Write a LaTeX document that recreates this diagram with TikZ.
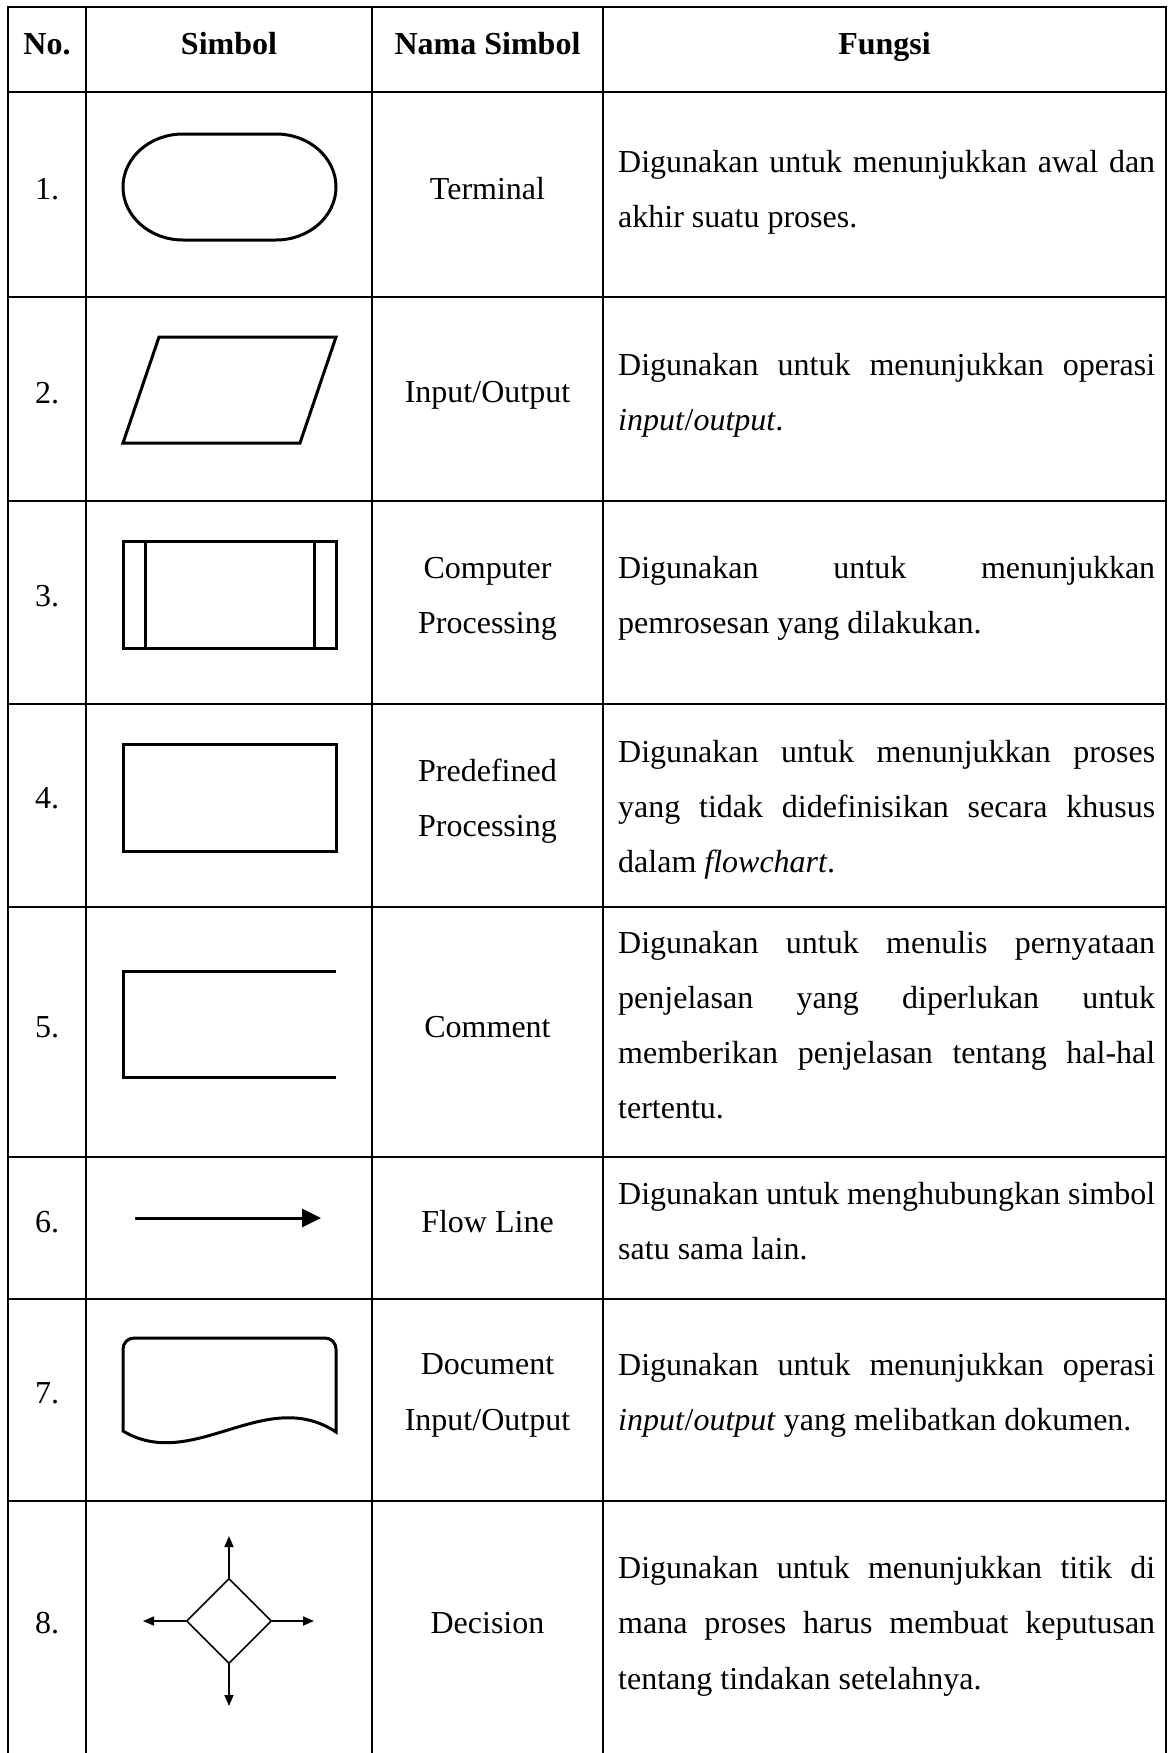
\documentclass[tikz,border=0pt]{standalone}
\usepackage{fontspec}
\setmainfont{Liberation Serif}
\usetikzlibrary{shapes.geometric,arrows.meta}
% one justified line of the "Fungsi" column
\newcommand{\jline}[1]{\makebox[537pt][s]{#1}}
\begin{document}
\begin{tikzpicture}[x=1pt,y=-1pt,
  grid/.style={line width=2.3pt},
  sym/.style={line width=3pt,line join=miter},
  thinsym/.style={line width=1.6pt},
  txt/.style={inner sep=0pt,anchor=base,font=\fontsize{32}{55}\selectfont},
  hdr/.style={inner sep=0pt,anchor=base,font=\fontsize{32}{55}\selectfont\bfseries},
  fn/.style={inner sep=0pt,anchor=base west,font=\fontsize{32}{55}\selectfont},
  smalltip/.style={-{Triangle[length=11pt,width=9pt]}},
]
\useasboundingbox (0,0) rectangle (1171,1753);

% ---- table rules ----
\draw[grid] (8,1760) -- (8,7) -- (1166,7) -- (1166,1760);
\foreach \yy in {92,297,501,704,907,1157,1299,1501}
  \draw[grid] (8,\yy) -- (1166,\yy);
\foreach \xx in {86,372,603}
  \draw[grid] (\xx,7) -- (\xx,1760);

% ---- header ----
\node[hdr] (hNo)   at (47,55)    {No.};
\node[hdr] (hSym)  at (229,55)   {Simbol};
\node[hdr] (hName) at (487.5,55) {Nama Simbol};
\node[hdr] (hFun)  at (884.5,55) {Fungsi};

% ---- numbers ----
\node[txt] (n1) at (47,199)  {1.};
\node[txt] (n2) at (47,403)  {2.};
\node[txt] (n3) at (47,606)  {3.};
\node[txt] (n4) at (47,808)  {4.};
\node[txt] (n5) at (47,1037) {5.};
\node[txt] (n6) at (47,1232) {6.};
\node[txt] (n7) at (47,1403) {7.};
\node[txt] (n8) at (47,1633) {8.};

% ---- symbols ----
% terminal
\draw[sym] (183,134) -- (276,134)
  arc[start angle=-90,end angle=90,x radius=60,y radius=53]
  -- (183,240)
  arc[start angle=90,end angle=270,x radius=60,y radius=53] -- cycle;
% input/output
\draw[sym] (159,337) -- (336,337) -- (300,443) -- (123,443) -- cycle;
% computer processing
\draw[sym] (123,541) rectangle (336,648);
\draw[sym] (145,541) -- (145,648);
\draw[sym] (314,541) -- (314,648);
% predefined processing
\draw[sym] (123,744) rectangle (336,851);
% comment
\draw[sym] (336,971) -- (123,971) -- (123,1077) -- (336,1077);
% flow line
\coordinate (flowA) at (135,1218);
\coordinate (flowB) at (321,1218);
\draw[sym,-{Triangle[length=19pt,width=18pt]}] (flowA) -- (flowB);
% document
\draw[sym] (336,1432) .. controls (265,1385) and (193,1473) .. (123,1431)
  -- (123,1349) arc[start angle=180,end angle=270,radius=11]
  -- (325,1338) arc[start angle=270,end angle=360,radius=11] -- cycle;
% decision
\node[diamond,draw,thinsym,aspect=1,inner sep=0pt,
      minimum width=85pt,minimum height=85pt] (dec) at (229,1621) {};
\coordinate (decN) at (229,1536);
\coordinate (decS) at (229,1706);
\coordinate (decW) at (143,1621);
\coordinate (decE) at (314,1621);
\draw[thinsym,smalltip] (dec.north) -- (decN);
\draw[thinsym,smalltip] (dec.south) -- (decS);
\draw[thinsym,smalltip] (dec.west) -- (decW);
\draw[thinsym,smalltip] (dec.east) -- (decE);

% ---- symbol names ----
\node[txt] (m1)  at (487.5,199)  {Terminal};
\node[txt] (m2)  at (487.5,402)  {Input/Output};
\node[txt] (m3a) at (487.5,578)  {Computer};
\node[txt] (m3b) at (487.5,633)  {Processing};
\node[txt] (m4a) at (487.5,781)  {Predefined};
\node[txt] (m4b) at (487.5,836)  {Processing};
\node[txt] (m5)  at (487.5,1037) {Comment};
\node[txt] (m6)  at (487.5,1232) {Flow Line};
\node[txt] (m7a) at (487.5,1374) {Document};
\node[txt] (m7b) at (487.5,1430) {Input/Output};
\node[txt] (m8)  at (487.5,1633) {Decision};

% ---- functions ----
\node[fn] (f1a) at (618,172)  {\jline{Digunakan untuk menunjukkan awal dan}};
\node[fn] (f1b) at (618,227)  {akhir suatu proses.};
\node[fn] (f2a) at (618,375)  {\jline{Digunakan untuk menunjukkan operasi}};
\node[fn] (f2b) at (618,430)  {\textit{input}/\textit{output}.};
\node[fn] (f3a) at (618,578)  {\jline{Digunakan untuk menunjukkan}};
\node[fn] (f3b) at (618,633)  {pemrosesan yang dilakukan.};
\node[fn] (f4a) at (618,762)  {\jline{Digunakan untuk menunjukkan proses}};
\node[fn] (f4b) at (618,817)  {\jline{yang tidak didefinisikan secara khusus}};
\node[fn] (f4c) at (618,872)  {dalam \textit{flowchart}.};
\node[fn] (f5a) at (618,953)  {\jline{Digunakan untuk menulis pernyataan}};
\node[fn] (f5b) at (618,1008) {\jline{penjelasan yang diperlukan untuk}};
\node[fn] (f5c) at (618,1063) {\jline{memberikan penjelasan tentang hal-hal}};
\node[fn] (f5d) at (618,1118) {tertentu.};
\node[fn] (f6a) at (618,1204) {\jline{Digunakan untuk menghubungkan simbol}};
\node[fn] (f6b) at (618,1259) {satu sama lain.};
\node[fn] (f7a) at (618,1375) {\jline{Digunakan untuk menunjukkan operasi}};
\node[fn] (f7b) at (618,1430) {\textit{input}/\textit{output} yang melibatkan dokumen.};
\node[fn] (f8a) at (618,1578) {\jline{Digunakan untuk menunjukkan titik di}};
\node[fn] (f8b) at (618,1633) {\jline{mana proses harus membuat keputusan}};
\node[fn] (f8c) at (618,1689) {tentang tindakan setelahnya.};
\end{tikzpicture}
\end{document}
